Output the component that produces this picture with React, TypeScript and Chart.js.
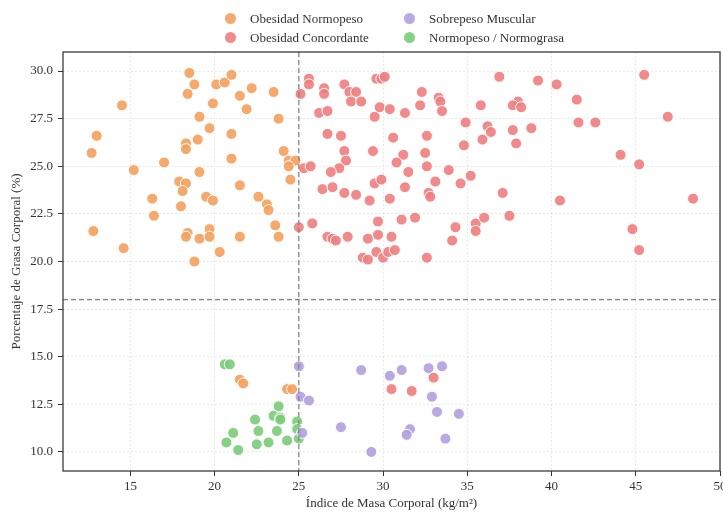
import React, { useEffect, useRef } from 'react';
import { Chart, registerables } from 'chart.js';

Chart.register(...registerables);

// ---- Data ----
const seriesNames = ['Obesidad Normopeso', 'Obesidad Concordante', 'Sobrepeso Muscular', 'Normopeso / Normograsa'];

const normopesoObesoX = [
  18.5, 18.8, 18.4, 20.1, 20.6, 21.0, 21.5, 22.2, 23.5, 14.5, 19.9, 21.9, 19.1, 23.8, 19.7, 13.0, 21.0, 18.3,
  18.3, 19.0, 12.7, 17.0, 21.0, 24.1, 24.4, 24.8, 24.4, 15.2, 19.1, 24.5, 17.9, 18.3, 21.5, 18.1, 16.3, 19.5,
  19.9, 22.6, 23.1, 23.2, 18.0, 16.4, 23.6, 12.8, 18.4, 18.3, 19.1, 19.7, 19.7, 21.5, 23.8, 14.6, 20.3, 18.8,
  21.5, 21.7, 24.3, 24.6,
];
const normopesoObesoY = [
  29.9, 29.3, 28.8, 29.3, 29.4, 29.8, 28.7, 29.1, 28.9, 28.2, 28.3, 28.0, 27.6, 27.5, 27.0, 26.6, 26.7, 26.2,
  25.9, 26.4, 25.7, 25.2, 25.4, 25.8, 25.3, 25.3, 25.0, 24.8, 24.7, 24.3, 24.2, 24.1, 24.0, 23.7, 23.3, 23.4,
  23.2, 23.4, 23.0, 22.7, 22.9, 22.4, 21.9, 21.6, 21.5, 21.3, 21.2, 21.7, 21.3, 21.3, 21.3, 20.7, 20.5, 20.0,
  13.8, 13.6, 13.3, 13.3,
];

const concordanteX = [
  25.1, 25.6, 25.6, 26.5, 26.5, 27.7, 28.0, 28.4, 28.1, 28.7, 29.6, 29.9, 30.1, 26.2, 26.7, 29.5, 29.8, 30.4,
  31.3, 32.3, 32.2, 33.3, 33.4, 33.5, 36.9, 35.8, 34.9, 36.2, 36.4, 35.9, 34.8, 26.7, 27.5, 30.6, 32.6, 27.7,
  29.4, 31.2, 32.5, 27.8, 30.8, 25.3, 25.7, 27.4, 26.9, 31.5, 32.6, 33.9, 35.2, 26.4, 27.0, 29.5, 29.9, 31.3,
  33.1, 34.6, 27.7, 28.4, 29.2, 30.4, 32.7, 32.8, 37.1, 25.0, 25.8, 29.7, 31.1, 31.9, 34.3, 35.5, 35.5, 36.0,
  37.5, 26.7, 27.0, 27.2, 27.9, 29.1, 29.7, 30.5, 34.1, 28.8, 29.1, 29.6, 30.0, 30.3, 30.7, 32.6,
  39.2, 40.3, 38.0, 37.7, 38.2, 41.5, 45.5, 46.9, 41.6, 42.6, 37.7, 38.8, 37.9, 44.1, 45.2, 40.5, 48.4, 44.8,
  45.2, 33.0, 30.5, 31.7,
];
const concordanteY = [
  28.8, 29.6, 29.3, 29.1, 28.8, 29.3, 28.9, 28.9, 28.4, 28.4, 29.6, 29.6, 29.7, 27.8, 27.9, 27.6, 28.1, 28.0,
  27.8, 28.9, 28.2, 28.6, 28.4, 27.9, 29.7, 28.2, 27.3, 27.1, 26.8, 26.4, 26.1, 26.7, 26.6, 26.5, 26.6, 25.8,
  25.8, 25.6, 25.7, 25.3, 25.2, 24.9, 25.0, 24.9, 24.7, 24.7, 25.0, 24.8, 24.5, 23.8, 23.9, 24.1, 24.3, 23.9,
  24.2, 24.1, 23.6, 23.5, 23.2, 23.3, 23.6, 23.4, 23.6, 21.8, 22.0, 22.1, 22.2, 22.3, 21.8, 22.0, 21.6, 22.3,
  22.4, 21.3, 21.2, 21.1, 21.3, 21.2, 21.4, 21.3, 21.1, 20.2, 20.1, 20.5, 20.2, 20.5, 20.6, 20.2,
  29.5, 29.3, 28.4, 28.2, 28.1, 28.5, 29.8, 27.6, 27.3, 27.3, 26.9, 27.0, 26.2, 25.6, 25.1, 23.2, 23.3, 21.7,
  20.6, 13.9, 13.3, 13.2,
];

const muscularX = [25.0, 28.7, 30.4, 31.1, 32.7, 33.5, 25.1, 25.6, 32.9, 33.2, 34.5, 27.5, 31.6, 31.4, 33.7, 29.3, 25.2];
const muscularY = [14.5, 14.3, 14.0, 14.3, 14.4, 14.5, 12.9, 12.7, 12.9, 12.1, 12.0, 11.3, 11.2, 10.9, 10.7, 10.0, 11.0];

const normograsaX = [20.6, 20.9, 23.8, 22.4, 23.5, 23.9, 23.9, 24.9, 24.9, 25.0, 21.1, 22.6, 23.7, 20.7, 22.5, 23.2, 24.3, 21.4];
const normograsaY = [14.6, 14.6, 12.4, 11.7, 11.9, 11.8, 11.7, 11.6, 11.2, 10.7, 11.0, 11.1, 11.1, 10.5, 10.4, 10.5, 10.6, 10.1];

const xTicks = [15, 20, 25, 30, 35, 40, 45, 50];
const yTicks = [10, 12.5, 15, 17.5, 20, 22.5, 25, 27.5, 30];
const xRange = [11, 50];
const yRange = [9, 31];
const bmiCut = 25;
const fatCut = 18;

const xTitle = 'Índice de Masa Corporal (kg/m²)';
const yTitle = 'Porcentaje de Grasa Corporal (%)';

const colors = ['rgba(244,162,97,0.92)', 'rgba(240,128,128,0.92)', 'rgba(178,158,224,0.9)', 'rgba(122,204,122,0.9)'];

const FONT = "'Liberation Serif', 'Times New Roman', serif";
const TEXT = '#333333';

const zip = (xs: number[], ys: number[]) => xs.map((x, i) => ({ x, y: ys[i] }));

const framePlugin = {
  id: 'frameAndRefs',
  afterDatasetsDraw(chart: any) {
    const { ctx, chartArea: a, scales } = chart;
    const px = scales.x.getPixelForValue(bmiCut);
    const py = scales.y.getPixelForValue(fatCut);
    ctx.save();
    ctx.strokeStyle = '#7f7f7f';
    ctx.lineWidth = 1.2;
    ctx.setLineDash([5, 3]);
    ctx.beginPath();
    ctx.moveTo(px, a.top);
    ctx.lineTo(px, a.bottom);
    ctx.stroke();
    ctx.beginPath();
    ctx.moveTo(a.left, py);
    ctx.lineTo(a.right, py);
    ctx.stroke();
    ctx.setLineDash([]);
    ctx.strokeStyle = '#333333';
    ctx.lineWidth = 1.25;
    ctx.strokeRect(a.left, a.top, a.right - a.left, a.bottom - a.top);
    ctx.restore();
  },
};

const legendRows = [
  [0, 2],
  [1, 3],
];

export default function App() {
  const ref = useRef<HTMLCanvasElement | null>(null);

  useEffect(() => {
    if (!ref.current) return;
    const datasets = [
      zip(normopesoObesoX, normopesoObesoY),
      zip(concordanteX, concordanteY),
      zip(muscularX, muscularY),
      zip(normograsaX, normograsaY),
    ].map((data, i) => ({
      label: seriesNames[i],
      data,
      backgroundColor: colors[i],
      borderColor: '#ffffff',
      borderWidth: 1,
      pointRadius: 5.5,
      pointHoverRadius: 5.5,
      order: i,
    }));

    const gridCommon = {
      color: 'rgba(0,0,0,0.11)',
      lineWidth: 0.8,
      tickLength: 5,
      tickColor: '#333333',
      tickWidth: 1,
      tickBorderDash: [],
    };

    const chart = new Chart(ref.current, {
      type: 'scatter',
      data: { datasets },
      plugins: [framePlugin],
      options: {
        animation: false,
        responsive: false,
        devicePixelRatio: 1,
        layout: { padding: { left: 0, top: 52, right: 60, bottom: 0 } },
        plugins: { legend: { display: false }, tooltip: { enabled: false } },
        scales: {
          x: {
            type: 'linear',
            min: xRange[0],
            max: xRange[1],
            afterBuildTicks: (s: any) => {
              s.ticks = xTicks.map((v) => ({ value: v }));
            },
            afterFit: (s: any) => {
              s.height = 42;
            },
            ticks: {
              font: { family: FONT, size: 13 },
              color: TEXT,
              padding: 3,
              maxRotation: 0,
              callback: (v: any) => String(v),
            },
            grid: gridCommon,
            border: { display: false, dash: [2, 2] },
            title: {
              display: true,
              text: xTitle,
              font: { family: FONT, size: 13 },
              color: TEXT,
              padding: { top: 0, bottom: 2 },
            },
          },
          y: {
            type: 'linear',
            min: yRange[0],
            max: yRange[1],
            afterBuildTicks: (s: any) => {
              s.ticks = yTicks.map((v) => ({ value: v }));
            },
            afterFit: (s: any) => {
              s.width = 63;
            },
            ticks: {
              font: { family: FONT, size: 13 },
              color: TEXT,
              padding: 5,
              callback: (v: any) => Number(v).toFixed(1),
            },
            grid: gridCommon,
            border: { display: false, dash: [2, 2] },
            title: {
              display: true,
              text: yTitle,
              font: { family: FONT, size: 13 },
              color: TEXT,
              padding: { top: 9, bottom: 0 },
            },
          },
        },
      },
    } as any);
    return () => chart.destroy();
  }, []);

  return (
    <div
      style={{
        position: 'fixed',
        left: 0,
        top: 0,
        width: 723,
        height: 513,
        overflow: 'hidden',
        background: '#ffffff',
      }}
    >
      <canvas
        ref={ref}
        width={780}
        height={513}
        style={{ position: 'absolute', left: 0, top: 0, width: 780, height: 513 }}
      />
      {legendRows.map((row, r) =>
        row.map((idx, c) => (
          <div
            key={`${r}-${c}`}
            style={{
              position: 'absolute',
              left: c === 0 ? 225 : 404,
              top: r === 0 ? 10 : 29,
              height: 17,
              display: 'flex',
              alignItems: 'center',
              fontFamily: FONT,
              fontSize: 13,
              color: TEXT,
              whiteSpace: 'nowrap',
            }}
          >
            <span
              style={{
                display: 'inline-block',
                width: 11,
                height: 11,
                borderRadius: '50%',
                background: colors[idx],
                marginRight: 14,
              }}
            />
            <span>{seriesNames[idx]}</span>
          </div>
        ))
      )}
    </div>
  );
}
